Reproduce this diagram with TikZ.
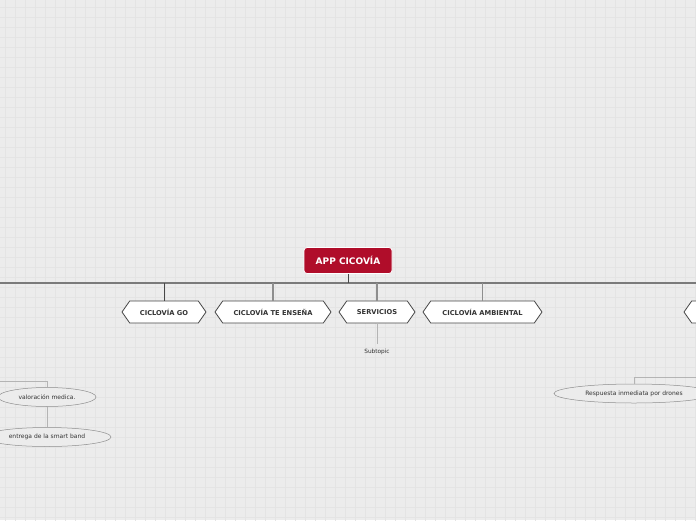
\documentclass[tikz,border=0pt]{standalone}
\usepackage{fontspec}
\setmainfont{DejaVu Sans}
\usepackage{tikz}
\usetikzlibrary{shapes.symbols,shapes.geometric}

\definecolor{bggray}{HTML}{ECECEC}
\definecolor{gridgray}{HTML}{E4E4E4}
\definecolor{crimson}{HTML}{B00D2A}
\definecolor{busgray}{HTML}{7A7A7A}
\definecolor{darkline}{HTML}{474747}
\definecolor{midline}{HTML}{8E8E8E}
\definecolor{softline}{HTML}{B4B4B4}
\definecolor{textgray}{HTML}{333333}

\tikzset{
    root/.style={draw=white, line width=0.8pt, fill=crimson, rounded corners=3pt,
        minimum width=88pt, minimum height=26pt, text=white,
        font=\fontsize{9}{10}\selectfont\bfseries},
    topic/.style={signal, signal to=west and east, signal pointer angle=110,
        draw=darkline, fill=white, line width=0.8pt, minimum height=22pt,
        inner xsep=0pt, inner ysep=0pt, text=textgray,
        font=\fontsize{6.7}{7}\selectfont\bfseries},
    bubble/.style={ellipse, draw=midline, fill=bggray, line width=0.5pt,
        minimum height=19pt, inner sep=0pt, text=textgray,
        font=\fontsize{6}{7}\selectfont},
}

\begin{document}
\begin{tikzpicture}[x=1pt,y=-1pt]
        % canvas with grid
        \useasboundingbox (0,0) rectangle (696,520);
        \clip (0,0) rectangle (696,520);
        \fill[bggray] (0,0) rectangle (696,520);
        \draw[gridgray, line width=0.6pt, step=10pt, shift={(5pt,3pt)}] (-10,-10) grid (700,530);

        % main bus
        \coordinate (busL) at (0,283);
        \coordinate (busR) at (696,283);
        \draw[busgray, line width=1.6pt] (busL) -- (busR);

        % central topic
        \node[root] (app) at (348,260.5) {APP CICOVÍA};
        \draw[darkline, line width=1pt] (app.south) -- (app.south |- busL);

        % main topics
        \node[topic, minimum width=84pt] (go) at (164,312) {CICLOVÍA GO};
        \node[topic, minimum width=116pt] (ensena) at (273,312) {CICLOVÍA TE ENSEÑA};
        \node[topic, minimum width=76pt] (servicios) at (377,312) {SERVICIOS};
        \node[topic, minimum width=119pt] (ambiental) at (482.5,312) {CICLOVÍA AMBIENTAL};
        \node[topic, minimum width=90pt] (offright) at (729,312) {};

        \draw[darkline, line width=1pt] (go.north) -- (go.north |- busL);
        \draw[midline, line width=1.6pt] (ensena.north) -- (ensena.north |- busL);
        \draw[midline, line width=1.6pt] (servicios.north) -- (servicios.north |- busL);
        \draw[midline, line width=1.6pt] (ambiental.north) -- (ambiental.north |- busL);

        % subtopic under servicios
        \node[text=textgray, font=\fontsize{5.8}{6}\selectfont] (subtopic) at (377,351.5) {Subtopic};
        \coordinate (subtop) at (377,344);
        \draw[softline, line width=1pt] (servicios.south) -- (subtop);

        % left branch
        \coordinate (leftin) at (-10,381);
        \node[bubble, minimum width=98pt] (valoracion) at (47,397) {valoración medica.};
        \node[bubble, minimum width=128pt] (smartband) at (47,437) {entrega de la smart band};
        \draw[softline, line width=1pt] (leftin) -| (valoracion.north);
        \draw[softline, line width=1pt] (valoracion.south) -- (smartband.north);

        % right branch
        \coordinate (rightin) at (706,377.5);
        \node[bubble, minimum width=160pt] (drones) at (634,393.5) {Respuesta inmediata por drones};
        \draw[softline, line width=1pt] (rightin) -| (drones.north);
\end{tikzpicture}
\end{document}
